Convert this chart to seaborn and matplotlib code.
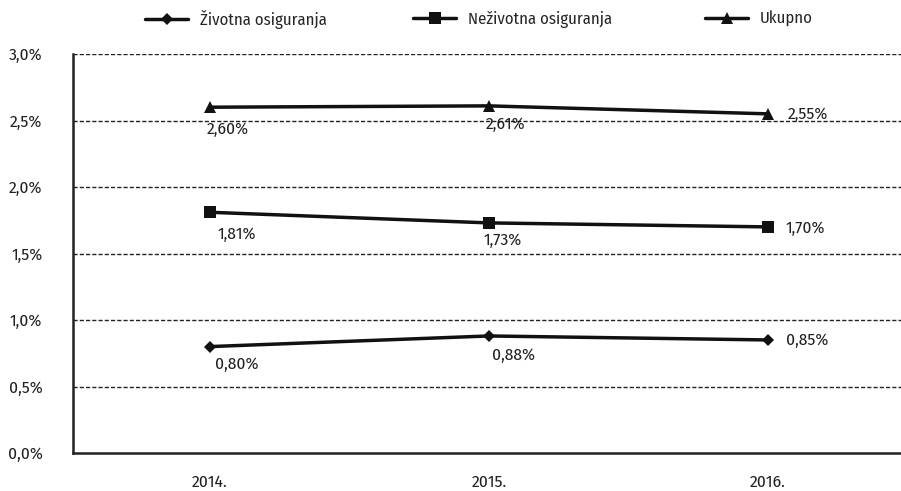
import matplotlib
matplotlib.use("Agg")
import matplotlib.pyplot as plt
from matplotlib import font_manager
import seaborn as sns
import pandas as pd

years = ["2014.", "2015.", "2016."]
zivotna = [0.80, 0.88, 0.85]
nezivotna = [1.81, 1.73, 1.70]
ukupno = [2.60, 2.61, 2.55]
series_names = ["Životna osiguranja", "Neživotna osiguranja", "Ukupno"]
y_ticks = [0.0, 0.5, 1.0, 1.5, 2.0, 2.5, 3.0]

# label offsets from each marker, in pixels (dx to text left edge, dy down to text centre)
label_offsets = [
    [(5, 18), (3, 19), (18, 0)],
    [(8, 22), (-5, 17), (18, 1)],
    [(-3, 22), (-3, 18), (20, 0)],
]

sns.set_theme(style="white")
installed = {f.name for f in font_manager.fontManager.ttflist}
preferred = [n for n in ["Fira Sans Condensed", "Fira Sans Extra Condensed"] if n in installed]
plt.rcParams["font.family"] = preferred[:1] + ["DejaVu Sans"]

TEXT = "#222222"
FS = 12.5
PX = 72 / 100  # points per pixel at 100 dpi


def pct(v, digits):
    return f"{v:.{digits}f}%".replace(".", ",")


fig = plt.figure(figsize=(9.01, 4.91), dpi=100)
ax = fig.add_axes([73 / 901, 1 - 453 / 491, 1 - 73 / 901, (453 - 54) / 491])

x = list(range(len(years)))
series = [zivotna, nezivotna, ukupno]
markers = ["D", "s", "^"]
msizes = [6.5, 8.5, 8.5]
handles = []
for vals, name, m, ms in zip(series, series_names, markers, msizes):
    df = pd.DataFrame({"x": x, "y": vals})
    sns.lineplot(data=df, x="x", y="y", ax=ax, color="#111111", linewidth=2.5,
                 marker=m, markersize=ms, markeredgewidth=0, label=name, legend=False)
    handles.append(ax.lines[-1])

for vals, offs in zip(series, label_offsets):
    for i, (v, (dx, dy)) in enumerate(zip(vals, offs)):
        ax.annotate(pct(v, 2), (i, v), xytext=(dx * PX, -dy * PX), textcoords="offset points",
                    ha="left", va="center", fontsize=FS, color=TEXT)

ax.set_xlim(-0.49, 2.477)
ax.set_ylim(0, 3.0)
ax.set_yticks(y_ticks)
ax.set_yticklabels([pct(t, 1) for t in y_ticks], fontsize=FS, color=TEXT)
ax.set_xticks(x)
ax.set_xticklabels(years, fontsize=FS, color=TEXT)
ax.tick_params(axis="y", length=0, pad=22)
ax.tick_params(axis="x", length=0, pad=15)
ax.set_xlabel("")
ax.set_ylabel("")

for t in y_ticks[1:]:
    ax.axhline(t, color=TEXT, linewidth=1.0, linestyle=(0, (3, 1.5)), zorder=0)

for side in ["top", "right"]:
    ax.spines[side].set_visible(False)
for side in ["left", "bottom"]:
    ax.spines[side].set_color(TEXT)
    ax.spines[side].set_linewidth(1.8)

legend_x = [145, 413, 705]
for h, name, lx in zip(handles, series_names, legend_x):
    fig.legend([h], [name], loc="center left", bbox_to_anchor=(lx / 901, 1 - 19 / 491),
               frameon=False, fontsize=12, handlelength=2.6, handletextpad=0.7,
               borderpad=0, borderaxespad=0)

fig.savefig("out.png", dpi=100)
